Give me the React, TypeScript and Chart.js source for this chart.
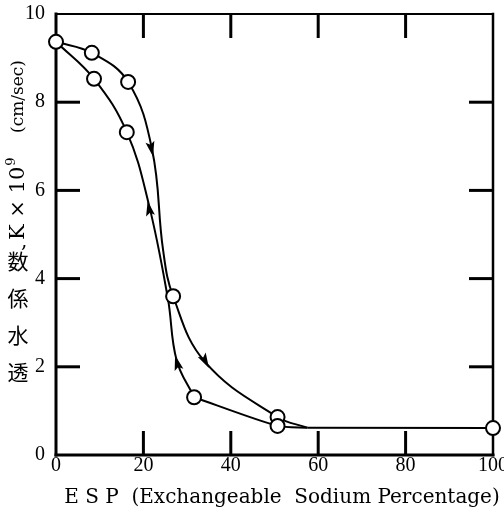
import React, { useEffect, useRef } from "react";
import { Chart, registerables } from "chart.js";

Chart.register(...registerables);

// ---- axis ticks ----
const xTickValues = [0, 20, 40, 60, 80, 100];
const yTickValues = [0, 2, 4, 6, 8, 10];

// ---- measured points (circles) : ESP (%), K x 10^9 (cm/sec) ----
const markerESP = [0, 8.2, 8.7, 16.5, 16.2, 26.8, 31.6, 50.7, 50.7, 100];
const markerK = [9.37, 9.12, 8.53, 8.46, 7.32, 3.6, 1.31, 0.86, 0.66, 0.61];

// ---- upper branch (ESP increasing, arrows pointing down) ----
const upperESP = [0, 8.2, 16.5, 22.0, 24.5, 26.8, 34.1, 50.7, 57.5];
const upperK = [9.37, 9.12, 8.46, 6.92, 4.65, 3.6, 2.11, 0.86, 0.62];

// ---- lower branch (ESP decreasing, arrows pointing up) ----
const lowerESP = [0, 8.7, 16.2, 21.2, 25.6, 27.6, 31.6];
const lowerK = [9.37, 8.53, 7.32, 5.7, 3.55, 2.15, 1.31];
const lowerTailESP = [31.6, 50.7, 57.5];
const lowerTailK = [1.31, 0.66, 0.62];

// ---- common flat tail ----
const tailESP = [57.5, 100];
const tailK = [0.62, 0.61];

// ---- arrowheads (tail -> tip, in data units) ----
const arrowTailESP = [21.5, 33.2, 21.6, 28.1];
const arrowTailK = [7.1, 2.3, 5.44, 1.95];
const arrowTipESP = [22.2, 35.0, 20.97, 27.25];
const arrowTipK = [6.77, 1.975, 5.76, 2.26];

// ---- texts ----
const xTitle = "E S P  (Exchangeable  Sodium Percentage)";
const yTitleCJK = ["透", "水", "係", "数"]; // bottom to top
const yTitleComma = ",";
const yTitleK = "K × 10";
const yTitleExp = "9";
const yTitleUnit = "(cm/sec)";

const toXY = (xs: number[], ys: number[]) => xs.map((x, i) => ({ x, y: ys[i] }));

const decorPlugin = {
  id: "decor",
  beforeDatasetsDraw(chart: any) {
    const { ctx, chartArea: a, scales } = chart;
    const xs = scales.x;
    const ys = scales.y;
    const seg = (x0: number, y0: number, x1: number, y1: number, w: number) => {
      ctx.lineWidth = w;
      ctx.beginPath();
      ctx.moveTo(x0, y0);
      ctx.lineTo(x1, y1);
      ctx.stroke();
    };
    ctx.save();
    ctx.strokeStyle = "#000";
    ctx.lineCap = "square";
    seg(a.left, a.top, a.left, a.bottom, 3);
    seg(a.left, a.bottom, a.right, a.bottom, 3);
    seg(a.left, a.top, a.right, a.top, 2);
    seg(a.right, a.top, a.right, a.bottom, 2.5);
    ctx.lineCap = "butt";
    const L = 24;
    xTickValues.slice(1, -1).forEach((v) => {
      const px = xs.getPixelForValue(v);
      seg(px, a.bottom, px, a.bottom - L, 3);
      seg(px, a.top, px, a.top + L, 3);
    });
    yTickValues.slice(1, -1).forEach((v) => {
      const py = ys.getPixelForValue(v);
      seg(a.left, py, a.left + L, py, 3);
      seg(a.right, py, a.right - L, py, 3);
    });
    ctx.restore();
  },
  afterDatasetsDraw(chart: any) {
    const { ctx, scales } = chart;
    const xs = scales.x;
    const ys = scales.y;
    ctx.save();
    ctx.fillStyle = "#000";
    for (let i = 0; i < arrowTipESP.length; i++) {
      const x0 = xs.getPixelForValue(arrowTailESP[i]);
      const y0 = ys.getPixelForValue(arrowTailK[i]);
      const x1 = xs.getPixelForValue(arrowTipESP[i]);
      const y1 = ys.getPixelForValue(arrowTipK[i]);
      const ang = Math.atan2(y1 - y0, x1 - x0);
      const c = Math.cos(ang);
      const s = Math.sin(ang);
      const Lh = 15;
      const W = 4.5;
      ctx.beginPath();
      ctx.moveTo(x1, y1);
      ctx.lineTo(x1 - Lh * c - W * s, y1 - Lh * s + W * c);
      ctx.lineTo(x1 - Lh * 0.8 * c, y1 - Lh * 0.8 * s);
      ctx.lineTo(x1 - Lh * c + W * s, y1 - Lh * s - W * c);
      ctx.closePath();
      ctx.fill();
    }
    ctx.restore();
  },
  afterDraw(chart: any) {
    const { ctx } = chart;
    ctx.save();
    ctx.fillStyle = "#000";
    // x title
    ctx.font = '20px "DejaVu Serif"';
    ctx.textAlign = "center";
    ctx.textBaseline = "alphabetic";
    ctx.fillText(xTitle, 282, 503);
    // y title: upright CJK stacked bottom to top
    ctx.font = '21px "Noto Sans CJK JP"';
    ctx.textAlign = "center";
    ctx.textBaseline = "middle";
    yTitleCJK.forEach((ch, i) => ctx.fillText(ch, 18, 372 - i * 37));
    ctx.font = '20px "DejaVu Serif"';
    ctx.textAlign = "left";
    ctx.textBaseline = "alphabetic";
    ctx.fillText(yTitleComma, 21, 247);
    // rotated Latin part
    ctx.save();
    ctx.translate(19, 240);
    ctx.rotate(-Math.PI / 2);
    ctx.textAlign = "left";
    ctx.textBaseline = "middle";
    ctx.font = '21px "DejaVu Serif"';
    ctx.fillText(yTitleK, 0, 0);
    const w = ctx.measureText(yTitleK).width;
    ctx.font = '13px "DejaVu Serif"';
    ctx.fillText(yTitleExp, w + 1, -7);
    ctx.restore();
    ctx.save();
    ctx.translate(19, 60);
    ctx.rotate(-Math.PI / 2);
    ctx.textAlign = "right";
    ctx.textBaseline = "middle";
    ctx.font = '17px "DejaVu Serif"';
    ctx.fillText(yTitleUnit, 0, 0);
    ctx.restore();
    ctx.restore();
  },
};

export default function App() {
  const ref = useRef<HTMLCanvasElement | null>(null);
  useEffect(() => {
    if (!ref.current) return;
    const tickFont = { family: "Liberation Serif", size: 20, lineHeight: 1 };
    const curve = {
      showLine: true,
      borderColor: "#000",
      borderWidth: 2,
      pointRadius: 0,
      pointHoverRadius: 0,
      tension: 0.4,
      fill: false,
    };
    const chart = new Chart(ref.current, {
      type: "scatter",
      data: {
        datasets: [
          {
            data: toXY(markerESP, markerK),
            showLine: false,
            pointRadius: 7,
            pointHoverRadius: 7,
            pointBorderWidth: 2,
            pointBackgroundColor: "#fff",
            pointBorderColor: "#000",
            clip: false,
          } as any,
          { ...curve, data: toXY(upperESP, upperK) } as any,
          { ...curve, data: toXY(lowerESP, lowerK) } as any,
          { ...curve, tension: 0.25, data: toXY(lowerTailESP, lowerTailK) } as any,
          { ...curve, tension: 0, data: toXY(tailESP, tailK) } as any,
        ],
      },
      options: {
        animation: false,
        responsive: false,
        events: [],
        layout: { padding: { top: 14, right: 11, left: 0, bottom: 0 } },
        plugins: { legend: { display: false }, tooltip: { enabled: false } },
        scales: {
          x: {
            type: "linear",
            min: 0,
            max: 100,
            afterBuildTicks: (s: any) => {
              s.ticks = xTickValues.map((v) => ({ value: v }));
            },
            grid: { display: false },
            border: { display: false },
            ticks: { font: tickFont, color: "#000", padding: -7, maxRotation: 0, autoSkip: false },
            afterFit: (s: any) => {
              s.height = 52;
              s.paddingLeft = 0;
              s.paddingRight = 0;
            },
          },
          y: {
            type: "linear",
            min: 0,
            max: 10,
            afterBuildTicks: (s: any) => {
              s.ticks = yTickValues.map((v) => ({ value: v }));
            },
            grid: { display: false },
            border: { display: false },
            ticks: { font: tickFont, color: "#000", padding: 3 },
            afterFit: (s: any) => {
              s.width = 56;
              s.paddingTop = 0;
              s.paddingBottom = 0;
            },
          },
        },
      },
      plugins: [decorPlugin],
    });
    return () => chart.destroy();
  }, []);
  return (
    <div style={{ position: "absolute", left: 0, top: 0, width: 504, height: 507, background: "#fff" }}>
      <canvas ref={ref} width={504} height={507} style={{ display: "block" }} />
    </div>
  );
}
